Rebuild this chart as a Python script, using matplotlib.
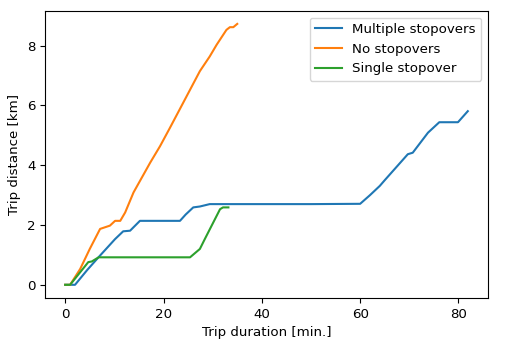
import matplotlib
matplotlib.use("Agg")
from matplotlib import pyplot as plt

# trip duration (min) vs cumulative trip distance (km)
multi_t = [0, 2.0, 4.5, 7.1, 10.15, 11.8, 13.2, 15.2, 23.35, 24.5, 26.05, 27.4, 29.4, 40, 50,
           60.0, 62, 64.0, 65.0, 67.0, 69.7, 70.7, 73.8, 76.1, 79.9, 81.9]
multi_d = [0, 0, 0.5, 0.98, 1.53, 1.79, 1.81, 2.14, 2.14, 2.35, 2.59, 2.62, 2.7, 2.7, 2.7,
           2.71, 3.0, 3.31, 3.5, 3.87, 4.37, 4.42, 5.09, 5.44, 5.44, 5.81]

none_t = [0, 1.0, 3.05, 5.0, 7.1, 9.1, 10.15, 11.2, 12.2, 13.9, 17.3, 19.3, 21.3, 24.0,
          27.4, 29.4, 30.8, 32.8, 33.5, 34.2, 35.0]
none_d = [0, 0, 0.53, 1.2, 1.87, 1.98, 2.14, 2.14, 2.42, 3.09, 4.09, 4.64, 5.25, 6.09,
          7.15, 7.64, 8.03, 8.53, 8.62, 8.62, 8.73]

single_t = [0, 1.0, 4.7, 5.4, 6.8, 25.4, 27.4, 28.4, 31.5, 32.1, 33.2]
single_d = [0, 0, 0.76, 0.78, 0.92, 0.92, 1.2, 1.53, 2.53, 2.59, 2.59]

fig = plt.figure(figsize=(5.12, 3.5), dpi=100)
ax = fig.add_axes([0.088, 0.149, 0.865, 0.82])
ax.plot(multi_t, multi_d, label="Multiple stopovers")
ax.plot(none_t, none_d, label="No stopovers")
ax.plot(single_t, single_d, label="Single stopover")
ax.set_xticks([0, 20, 40, 60, 80])
ax.set_yticks([0, 2, 4, 6, 8])
ax.tick_params(labelsize=9.6)
ax.set_xlabel("Trip duration [min.]", fontsize=9.6)
ax.set_ylabel("Trip distance [km]", fontsize=9.6)
ax.legend(loc="upper right", fontsize=9.6)
fig.savefig("out.png", dpi=100)
